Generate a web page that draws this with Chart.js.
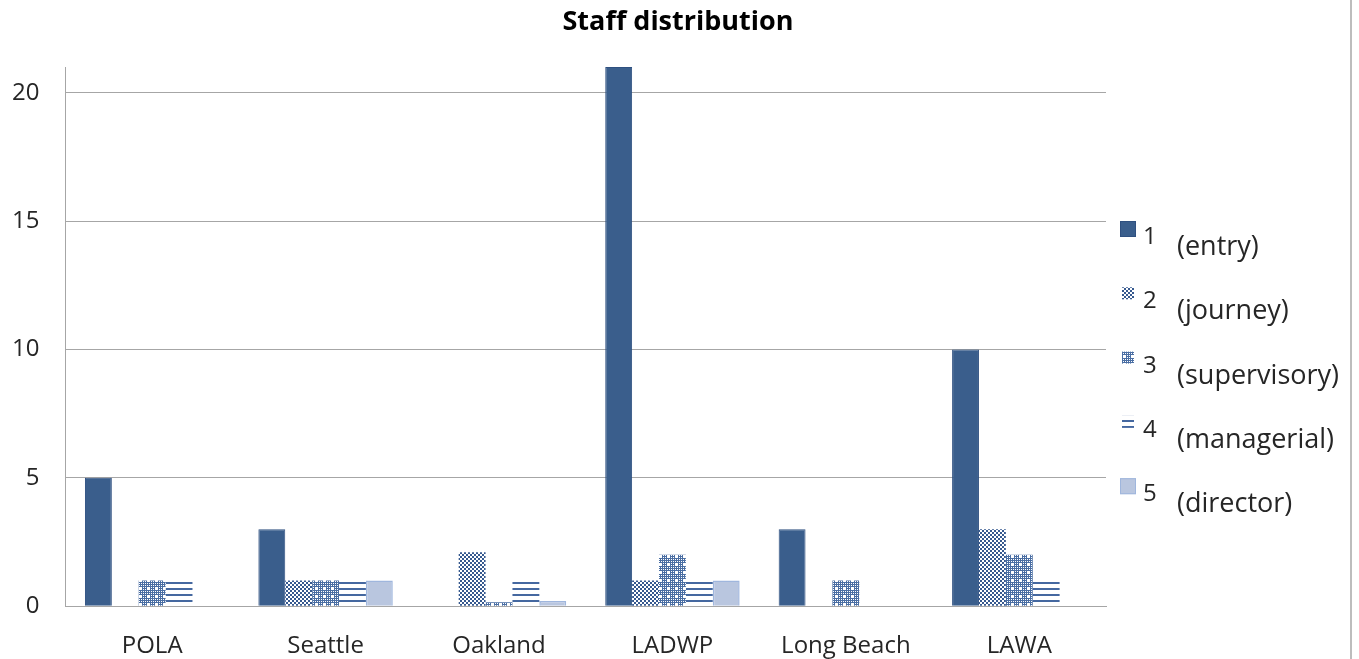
<!DOCTYPE html>
<html>
<head>
<meta charset="utf-8">
<title>Staff distribution</title>
<script src="https://cdn.jsdelivr.net/npm/chart.js@4/dist/chart.umd.min.js"></script>
<style>
  html, body { margin: 0; padding: 0; background: #fff; }
  #caixa { position: relative; width: 1359px; height: 659px; }
  #borda { position: absolute; left: 1350px; top: 0; width: 2px; height: 659px; background: #bdbdbd; }
</style>
</head>
<body>
<div id="caixa">
  <canvas id="grafico"></canvas>
  <div id="borda"></div>
</div>
<script>
// dados
const titulo = 'Staff distribution';
const categorias = ['POLA', 'Seattle', 'Oakland', 'LADWP', 'Long Beach', 'LAWA'];
const numerosSerie = ['1', '2', '3', '4', '5'];
const nomesSerie = ['(entry)', '(journey)', '(supervisory)', '(managerial)', '(director)'];
const entry = [5, 3, 0, 21, 3, 10];
const journey = [0, 1, 2.1, 1, 0, 3];
const supervisory = [1, 1, 0.15, 2, 1, 2];
const managerial = [1, 1, 1.1, 1, 0, 1];
const director = [0, 1, 0.2, 1, 0, 0];
const ticksY = [0, 5, 10, 15, 20];

const fonte = '"Open Sans", "Liberation Sans", sans-serif';
const azul = '#3a5e8c';
const azulPadrao = '#36598f';

// Função para criar um padrão (hachura) num canvas pequeno
function criarPadrao(w, h, desenhar) {
    const c = document.createElement('canvas');
    c.width = w;
    c.height = h;
    const g = c.getContext('2d');
    desenhar(g);
    return g.createPattern(c, 'repeat');
}

// xadrez miúdo
const padraoJourney = criarPadrao(4, 4, g => {
    g.fillStyle = '#fff';
    g.fillRect(0, 0, 4, 4);
    g.fillStyle = azulPadrao;
    g.fillRect(0, 0, 2, 2);
    g.fillRect(2, 2, 2, 2);
});

// azul com pontinhos brancos
const padraoSupervisory = criarPadrao(8, 8, g => {
    g.fillStyle = '#4a6ea3';
    g.fillRect(0, 0, 8, 8);
    g.fillStyle = '#fff';
    for (let x = 1; x < 8; x += 2) {
        for (let y = 1; y < 8; y += 2) {
            g.fillRect(x, y, 1, 1);
        }
    }
    g.fillRect(3, 4, 3, 1);
    g.fillRect(4, 3, 1, 3);
});

// linhas horizontais
const padraoManagerial = criarPadrao(6, 6, g => {
    g.fillStyle = '#4568a0';
    g.fillRect(0, 0, 6, 2);
});

const series = [entry, journey, supervisory, managerial, director];
const fundos = [azul, padraoJourney, padraoSupervisory, padraoManagerial, '#b9c6df'];
const bordas = ['#2f5080', 'rgba(0,0,0,0)', 'rgba(0,0,0,0)', 'rgba(0,0,0,0)', '#9fb6dd'];
const largurasBorda = [1, 0, 0, 0, 1.5];

const datasets = series.map((valores, i) => ({
    label: numerosSerie[i] + ' ' + nomesSerie[i],
    data: valores,
    backgroundColor: fundos[i],
    borderColor: bordas[i],
    borderWidth: largurasBorda[i],
    categoryPercentage: 0.775,
    barPercentage: 1
}));

// Plugin para desenhar o título (centrado na imagem) e a legenda à direita
const tituloELegenda = {
    id: 'tituloELegenda',
    afterDraw(chart) {
        const ctx = chart.ctx;
        ctx.save();
        ctx.fillStyle = '#000';
        ctx.font = 'bold 27px ' + fonte;
        ctx.textAlign = 'center';
        ctx.textBaseline = 'middle';
        ctx.fillText(titulo, 678, 22);

        chart.data.datasets.forEach((ds, i) => {
            const base = 255 + i * 64.3;
            const yNum = base - 11;
            const inset = largurasBorda[i] ? 0 : 2;
            ctx.fillStyle = ds.backgroundColor;
            ctx.fillRect(1120 + inset, yNum - 23 + inset, 16 - inset * 2, 16 - inset * 2);
            if (largurasBorda[i]) {
                ctx.strokeStyle = ds.borderColor;
                ctx.lineWidth = 1;
                ctx.strokeRect(1120.5, yNum - 22.5, 15, 15);
            }
            ctx.fillStyle = '#262626';
            ctx.textBaseline = 'alphabetic';
            ctx.textAlign = 'left';
            ctx.font = '24px ' + fonte;
            ctx.fillText(numerosSerie[i], 1143, yNum);
            ctx.font = '27px ' + fonte;
            ctx.fillText(nomesSerie[i], 1177, base);
        });
        ctx.restore();
    }
};

const ctx = document.getElementById('grafico').getContext('2d');
new Chart(ctx, {
    type: 'bar',
    data: {
        labels: categorias,
        datasets: datasets
    },
    options: {
        responsive: true,
        maintainAspectRatio: false,
        animation: false,
        layout: { padding: { left: -14, right: 253, top: 67, bottom: -28 } },
        scales: {
            x: {
                grid: { display: false, drawTicks: false },
                border: { display: true, color: '#a6a6a6', width: 1 },
                ticks: { color: '#262626', font: { family: fonte, size: 24 }, padding: 26 }
            },
            y: {
                min: 0,
                max: 21,
                afterBuildTicks: axis => {
                    axis.ticks = ticksY.map(v => ({ value: v }));
                },
                grid: { color: '#a6a6a6', lineWidth: 1, drawTicks: false },
                border: { display: true, color: '#a6a6a6', width: 1 },
                ticks: { color: '#262626', font: { family: fonte, size: 24 }, padding: 26 }
            }
        },
        plugins: {
            legend: { display: false },
            tooltip: { enabled: false },
            title: { display: false }
        }
    },
    plugins: [tituloELegenda]
});
</script>
</body>
</html>
